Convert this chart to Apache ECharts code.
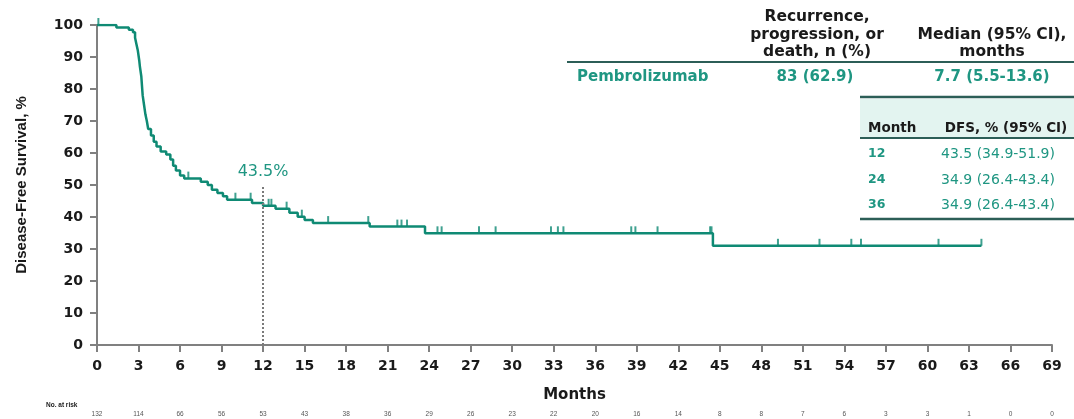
<!DOCTYPE html>
<html>
<head>
<meta charset="utf-8">
<script src="https://cdn.jsdelivr.net/npm/echarts@6/dist/echarts.min.js"></script>
<style>
  html, body { margin: 0; padding: 0; background: #fff; }
  #chart { width: 1074px; height: 419px; }
</style>
</head>
<body>
<div id="chart"></div>
<script>
// Kaplan-Meier steps (month, DFS %)
const kmMonths = [0, 1.4, 2.3, 2.6, 2.75, 2.85, 2.95, 3.05, 3.1, 3.2, 3.25, 3.3, 3.4, 3.5, 3.6, 3.7, 3.9, 4.1, 4.3, 4.6, 5.0, 5.3, 5.5, 5.7, 6.0, 6.3, 7.5, 8.0, 8.3, 8.7, 9.1, 9.4, 11.2, 12.0, 12.9, 13.9, 14.5, 15.0, 15.6, 19.7, 23.7, 44.5, 63.9];
const kmDfs    = [100, 99.2, 98.5, 97.7, 96, 94, 92, 89, 87, 84, 81, 78, 75, 72, 70, 67.5, 65.5, 63.5, 62, 60.5, 59.5, 58, 56, 54.5, 53, 52, 51, 50, 48.5, 47.5, 46.5, 45.4, 44.4, 43.5, 42.6, 41.3, 40.1, 39.1, 38.1, 37.0, 34.9, 31.0, 31.0];

// censored observations
const censorMonths = [0.1, 6.6, 10.0, 11.1, 12.4, 12.6, 13.7, 14.8, 16.7, 19.6, 21.7, 22.0, 22.4, 24.6, 24.9, 27.6, 28.8, 32.8, 33.3, 33.7, 38.6, 38.9, 40.5, 44.3, 44.4, 49.2, 52.2, 54.5, 55.2, 60.8, 63.9];
const censorDfs    = [100, 52, 45.4, 45.4, 43.5, 43.5, 42.6, 40.1, 38.1, 38.1, 37.0, 37.0, 37.0, 34.9, 34.9, 34.9, 34.9, 34.9, 34.9, 34.9, 34.9, 34.9, 34.9, 34.9, 34.9, 31.0, 31.0, 31.0, 31.0, 31.0, 31.0];

const xTicks = [0, 3, 6, 9, 12, 15, 18, 21, 24, 27, 30, 33, 36, 39, 42, 45, 48, 51, 54, 57, 60, 63, 66, 69];
const atRisk = [132, 114, 66, 56, 53, 43, 38, 36, 29, 26, 23, 22, 20, 16, 14, 8, 8, 7, 6, 3, 3, 1, 0, 0];

const landmarkMonth = 12;
const landmarkValue = 43.5;

// summary tables
const armName = 'Pembrolizumab';
const armEvents = '83 (62.9)';
const armMedian = '7.7 (5.5-13.6)';
const dfsMonths = ['12', '24', '36'];
const dfsValues = ['43.5 (34.9-51.9)', '34.9 (26.4-43.4)', '34.9 (26.4-43.4)'];

const teal = '#0f8a74';
const tealText = '#1f9682';
const darkLine = '#2c5e57';
const tickFont = 'DejaVu Sans';

const chart = echarts.init(document.getElementById('chart'));

const kmData = kmMonths.map((m, i) => [m, kmDfs[i]]);
const censorData = censorMonths.map((m, i) => [m, censorDfs[i]]);

function txt(x, y, text, opt) {
  return {
    type: 'text', x: x, y: y, silent: true,
    style: Object.assign({
      text: text, fill: '#1a1a1a', fontFamily: tickFont, fontWeight: 'bold',
      fontSize: 15.5, align: 'center', verticalAlign: 'middle'
    }, opt || {})
  };
}
function hline(x1, x2, y, w) {
  return {
    type: 'line', silent: true,
    shape: { x1: x1, y1: y, x2: x2, y2: y },
    style: { stroke: darkLine, lineWidth: w }
  };
}

const graphics = [
  { type: 'rect', silent: true, shape: { x: 860, y: 99, width: 214, height: 38 }, style: { fill: '#e3f4f0' } },
  txt(817, 17, 'Recurrence,'),
  txt(817, 35, 'progression, or'),
  txt(817, 52, 'death, n (%)'),
  txt(992, 35, 'Median (95% CI),'),
  txt(992, 52, 'months'),
  hline(567, 1074, 62, 2),
  txt(577, 77, armName, { fill: tealText, align: 'left', fontSize: 15 }),
  txt(815, 77, armEvents, { fill: tealText, fontSize: 15 }),
  txt(992, 77, armMedian, { fill: tealText, fontSize: 15 }),
  hline(860, 1074, 97, 2.5),
  txt(868, 128, 'Month', { align: 'left', fontSize: 13.5 }),
  txt(1006, 128, 'DFS, % (95% CI)', { fontSize: 13.5 }),
  hline(860, 1074, 138, 2),
  hline(860, 1074, 219, 2.5),
  txt(46, 405, 'No. at risk', { align: 'left', fontSize: 6.5, fontFamily: 'Liberation Sans' })
];
dfsMonths.forEach((m, i) => {
  const y = [154, 180, 205][i];
  graphics.push(txt(868, y, m, { fill: tealText, align: 'left', fontSize: 12.5 }));
  graphics.push(txt(998, y, dfsValues[i], { fill: tealText, fontWeight: 'normal', fontSize: 14 }));
});

const option = {
  animation: false,
  grid: { left: 97, right: 22, top: 25, bottom: 74 },
  xAxis: [
    {
      type: 'value', min: 0, max: 69, interval: 3,
      name: 'Months', nameLocation: 'middle', nameGap: 43,
      nameTextStyle: { fontFamily: tickFont, fontWeight: 'bold', fontSize: 15, color: '#1a1a1a' },
      axisLine: { lineStyle: { color: '#808080', width: 2 } },
      axisTick: { show: true, length: 7, lineStyle: { color: '#808080', width: 2 } },
      axisLabel: { margin: 14, fontFamily: tickFont, fontWeight: 'bold', fontSize: 14, color: '#1a1a1a' },
      splitLine: { show: false }
    },
    {
      type: 'value', min: 0, max: 69, interval: 3, position: 'bottom', offset: 62,
      axisLine: { show: false }, axisTick: { show: false }, splitLine: { show: false },
      axisLabel: {
        margin: 4, fontFamily: 'Liberation Sans', fontSize: 6.5, color: '#555',
        formatter: v => { const i = xTicks.indexOf(v); return i >= 0 ? String(atRisk[i]) : ''; }
      }
    }
  ],
  yAxis: {
    type: 'value', min: 0, max: 100, interval: 10,
    name: 'Disease-Free Survival, %', nameLocation: 'middle', nameGap: 68,
    nameTextStyle: { fontFamily: 'Liberation Sans', fontWeight: 'bold', fontSize: 15, color: '#1a1a1a' },
    axisLine: { show: true, lineStyle: { color: '#808080', width: 2 } },
    axisTick: { show: true, length: 7, lineStyle: { color: '#808080', width: 2 } },
    axisLabel: { margin: 14, fontFamily: tickFont, fontWeight: 'bold', fontSize: 14, color: '#1a1a1a' },
    splitLine: { show: false }
  },
  series: [
    {
      name: armName, type: 'line', step: 'end', data: kmData,
      showSymbol: false, symbol: 'none',
      lineStyle: { color: teal, width: 2.5 },
      markLine: {
        silent: true, symbol: 'none', label: { show: false },
        lineStyle: { type: [2, 2], color: '#7a7a7a', width: 2 },
        data: [[{ coord: [landmarkMonth, 0] }, { coord: [landmarkMonth, 49.5] }]]
      },
      markPoint: {
        silent: true, symbol: 'circle', symbolSize: 0,
        label: { show: true, formatter: landmarkValue + '%', color: tealText, fontFamily: tickFont, fontSize: 16, position: 'inside' },
        data: [{ coord: [landmarkMonth, 54] }]
      }
    },
    {
      type: 'scatter', data: censorData,
      symbol: 'rect', symbolSize: [2, 7], symbolOffset: [0, -3.5],
      itemStyle: { color: teal }
    }
  ],
  graphic: graphics
};

chart.setOption(option);
</script>
</body>
</html>
